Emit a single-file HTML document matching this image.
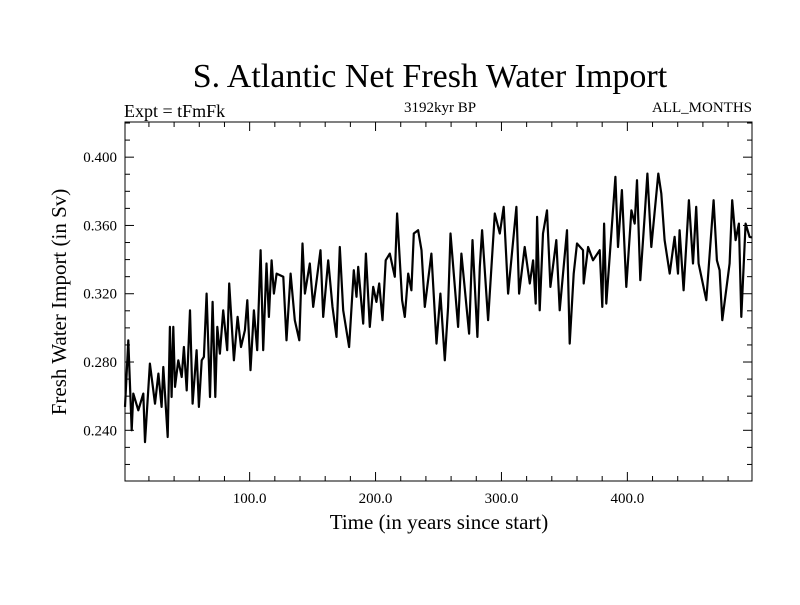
<!DOCTYPE html>
<html><head><meta charset="utf-8"><style>
body{margin:0;background:#fff;}
svg text{font-family:"Liberation Serif",serif;fill:#000;}
</style></head><body>
<svg id="chart" width="800" height="600">
<rect width="800" height="600" fill="#fff"/>
<text x="430" y="87" font-size="34" text-anchor="middle">S. Atlantic Net Fresh Water Import</text>
<text x="124" y="117" font-size="18">Expt = tFmFk</text>
<text x="440" y="112" font-size="15" text-anchor="middle">3192kyr BP</text>
<text x="752" y="112" font-size="15" text-anchor="end">ALL_MONTHS</text>
<text x="0" y="0" font-size="21" text-anchor="middle" transform="translate(66,302) rotate(-90)">Fresh Water Import (in Sv)</text>
<text x="439" y="529" font-size="21" text-anchor="middle">Time (in years since start)</text>
<g id="ticks"></g>
<path id="series" fill="none" stroke="#000" stroke-width="2.2" stroke-linejoin="round"/>
<rect x="125" y="122" width="627" height="359" fill="none" stroke="#000" stroke-width="1"/>
</svg>
<script>
const years=[1,3.6,6.3,7.6,11.6,15.5,16.9,20.8,24.8,27.5,30.1,31.4,34.9,36.7,38,39.4,40.7,43.3,46,47.8,50,52.6,54.7,57.9,59.7,61.9,63.7,65.8,68.5,70.6,72.7,74.3,76.4,79,82.2,83.8,87.5,90.4,93.1,96.2,98.1,100.7,103.4,106,108.7,110.8,113.4,115.3,117.4,119.3,121.4,126.7,129.3,132.5,135.9,139.4,142,143.9,147.8,150.5,156.3,158.4,162.4,165.8,169,171.6,174.3,179,182.7,184.9,186.2,190.2,192.3,195.4,198.1,200.7,202.9,205.5,208.1,211.3,215.3,217.1,221.1,223.2,225.9,228.5,230.4,233.8,236.5,239.1,244.4,248.4,251.5,255,257.6,259.5,265.6,268.2,274.3,277,280.9,282.8,284.6,289.4,294.7,298.7,301.8,305.3,311.9,314,318.5,322.5,325.1,327.2,328.3,330.4,333,336.2,338.9,343.6,346.3,352.1,354.2,357.4,360,364.8,365.3,368.8,372.7,378,380.1,381.5,383.3,390.5,392.6,395.7,399.2,403.2,405.8,407.7,410.3,413.7,415.9,419,424.6,427,429.6,433.6,437.5,440.2,441.5,444.7,448.9,452.1,454.7,456.6,462.7,468.5,471.1,473.3,475.4,481.2,483.3,486,488.6,490.5,493.9,497.1,499];
const values=[0.2537,0.2927,0.2400,0.2615,0.2517,0.2615,0.2331,0.2791,0.2556,0.2732,0.2537,0.2771,0.2361,0.3006,0.2595,0.3006,0.2654,0.2810,0.2712,0.2888,0.2634,0.3103,0.2556,0.2869,0.2537,0.2810,0.2830,0.3201,0.2595,0.3152,0.2595,0.3006,0.2849,0.3103,0.2869,0.3260,0.2810,0.3064,0.2888,0.2986,0.3162,0.2752,0.3103,0.2869,0.3455,0.2869,0.3377,0.3064,0.3396,0.3201,0.3318,0.3299,0.2927,0.3318,0.3045,0.2927,0.3494,0.3201,0.3377,0.3123,0.3455,0.3064,0.3396,0.3123,0.2947,0.3474,0.3103,0.2888,0.3338,0.3182,0.3357,0.3025,0.3435,0.3006,0.3240,0.3152,0.3260,0.3045,0.3396,0.3435,0.3299,0.3670,0.3162,0.3064,0.3318,0.3220,0.3553,0.3572,0.3455,0.3123,0.3435,0.2908,0.3201,0.2810,0.3123,0.3553,0.3006,0.3435,0.2966,0.3514,0.2947,0.3357,0.3572,0.3045,0.3670,0.3553,0.3709,0.3201,0.3709,0.3201,0.3474,0.3260,0.3396,0.3142,0.3650,0.3103,0.3553,0.3689,0.3240,0.3514,0.3103,0.3572,0.2908,0.3318,0.3494,0.3455,0.3260,0.3474,0.3396,0.3455,0.3123,0.3611,0.3142,0.3885,0.3474,0.3807,0.3240,0.3689,0.3611,0.3865,0.3279,0.3650,0.3904,0.3474,0.3904,0.3787,0.3514,0.3318,0.3533,0.3318,0.3572,0.3220,0.3748,0.3377,0.3709,0.3377,0.3162,0.3748,0.3396,0.3338,0.3045,0.3377,0.3748,0.3514,0.3611,0.3064,0.3611,0.3533,0.3530];
const xTickValues=[100,200,300,400];
const xTickLabels=["100.0","200.0","300.0","400.0"];
const yTickValues=[0.24,0.28,0.32,0.36,0.40];
const yTickLabels=["0.240","0.280","0.320","0.360","0.400"];

const L=125,R=752,T=122,B=481,X0=1,X1=499,Y0=0.2103,Y1=0.4206;
function xs(v){return L+(v-X0)/(X1-X0)*(R-L);}
function ys(v){return B-(v-Y0)/(Y1-Y0)*(B-T);}
const NS="http://www.w3.org/2000/svg";
const g=document.getElementById('ticks');
function line(x1,y1,x2,y2,name){const l=document.createElementNS(NS,'line');l.setAttribute('x1',x1);l.setAttribute('y1',y1);l.setAttribute('x2',x2);l.setAttribute('y2',y2);l.setAttribute('stroke','#000');l.setAttribute('stroke-width','1');


g.appendChild(l);}
function txt(x,y,s,anchor,size,name){const t=document.createElementNS(NS,'text');t.setAttribute('x',x);t.setAttribute('y',y);t.setAttribute('text-anchor',anchor);t.setAttribute('font-size',size);t.textContent=s;


g.appendChild(t);}
for(let v=20;v<X1;v+=20){const x=xs(v);const major=v%100===0;const len=major?9:5;line(x,B,x,B-len,'x-tick');line(x,T,x,T+len,'x-tick-top');}
xTickValues.forEach((v,i)=>txt(xs(v),503,xTickLabels[i],'middle',15,'x-tick-label'));
for(let k=22;k<=42;k++){const v=k/100;const y=ys(v);const major=k%4===0;const len=major?9:5;line(L,y,L+len,y,'y-tick');line(R,y,R-len,y,'y-tick-right');}
yTickValues.forEach((v,i)=>txt(117,ys(v)+5,yTickLabels[i],'end',15,'y-tick-label'));
let d='';years.forEach((yr,i)=>{d+=(i?'L':'M')+xs(yr).toFixed(1)+','+ys(values[i]).toFixed(1);});
document.getElementById('series').setAttribute('d',d);
</script>
</body></html>
